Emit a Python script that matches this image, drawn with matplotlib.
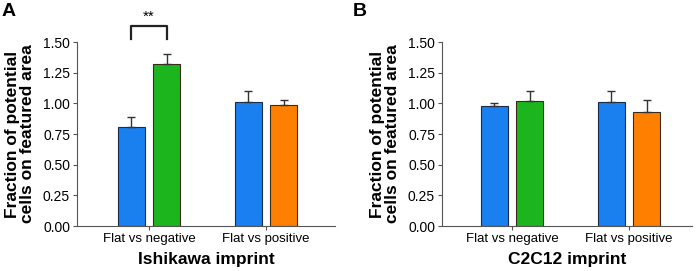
import matplotlib
matplotlib.use("Agg")
import matplotlib.pyplot as plt
import numpy as np

plt.rcParams['font.family'] = ['Liberation Sans', 'DejaVu Sans']

groups = ["Flat vs negative", "Flat vs positive"]
yticks = [0.00, 0.25, 0.50, 0.75, 1.00, 1.25, 1.50]

# Panel A: Ishikawa imprint
a_flat = [0.81, 1.01]
a_flat_err = [0.08, 0.09]
a_feat = [1.32, 0.99]
a_feat_err = [0.08, 0.04]

# Panel B: C2C12 imprint
b_flat = [0.98, 1.01]
b_flat_err = [0.02, 0.09]
b_feat = [1.02, 0.93]
b_feat_err = [0.08, 0.10]

flat_color = "#1a80f0"
feat_colors = ["#1db51d", "#ff8000"]

fig = plt.figure(figsize=(6.99, 2.71), dpi=100)
axA = fig.add_axes([77/699, 45/271, (335-77)/699, 184/271])
axB = fig.add_axes([442/699, 45/271, (692-442)/699, 184/271])

def draw(ax, flat, flat_err, feat, feat_err, xlabel, xlim):
    x = np.arange(len(groups))
    w = 0.23
    off = 0.15
    ax.bar(x - off, flat, w, color=flat_color, edgecolor="#1a2a4a", linewidth=0.8, zorder=2)
    ax.bar(x + off, feat, w, color=feat_colors, edgecolor="#3a2a1a", linewidth=0.8, zorder=2)
    ax.errorbar(x - off, flat, yerr=[np.zeros(len(flat)), flat_err], fmt="none",
                ecolor="#333333", elinewidth=1.0, capsize=3, capthick=1.0, zorder=3)
    ax.errorbar(x + off, feat, yerr=[np.zeros(len(feat)), feat_err], fmt="none",
                ecolor="#333333", elinewidth=1.0, capsize=3, capthick=1.0, zorder=3)
    ax.set_xlim(*xlim)
    ax.set_ylim(0, 1.5)
    ax.set_yticks(yticks)
    ax.set_yticklabels([f"{t:.2f}" for t in yticks], fontsize=10)
    ax.set_xticks(x)
    ax.set_xticklabels(groups, fontsize=9.5)
    ax.spines["top"].set_visible(False)
    ax.spines["right"].set_visible(False)
    for s in ["left", "bottom"]:
        ax.spines[s].set_color("#555555")
        ax.spines[s].set_linewidth(0.8)
    ax.tick_params(axis="both", length=3, width=0.8, color="#555555", pad=2)
    ax.set_ylabel("Fraction of potential\ncells on featured area", fontsize=12.5,
                  fontweight="bold", labelpad=6, linespacing=1.0)
    ax.set_xlabel(xlabel, fontsize=12.5, fontweight="bold", labelpad=5)

draw(axA, a_flat, a_flat_err, a_feat, a_feat_err, "Ishikawa imprint", (-0.615, 1.59))
draw(axB, b_flat, b_flat_err, b_feat, b_feat_err, "C2C12 imprint", (-0.598, 1.538))

# significance bracket
axA.plot([-0.15, -0.15, 0.15, 0.15], [1.524, 1.63, 1.63, 1.524], color="#222222",
         linewidth=1.6, clip_on=False)
axA.text(0.0, 1.645, "**", ha="center", va="bottom", fontsize=11, clip_on=False)

fig.text(2/699, 1 - 3/271, "A", fontsize=14, fontweight="bold", va="top", ha="left")
fig.text(353/699, 1 - 3/271, "B", fontsize=14, fontweight="bold", va="top", ha="left")

fig.savefig("out.png", dpi=100)
